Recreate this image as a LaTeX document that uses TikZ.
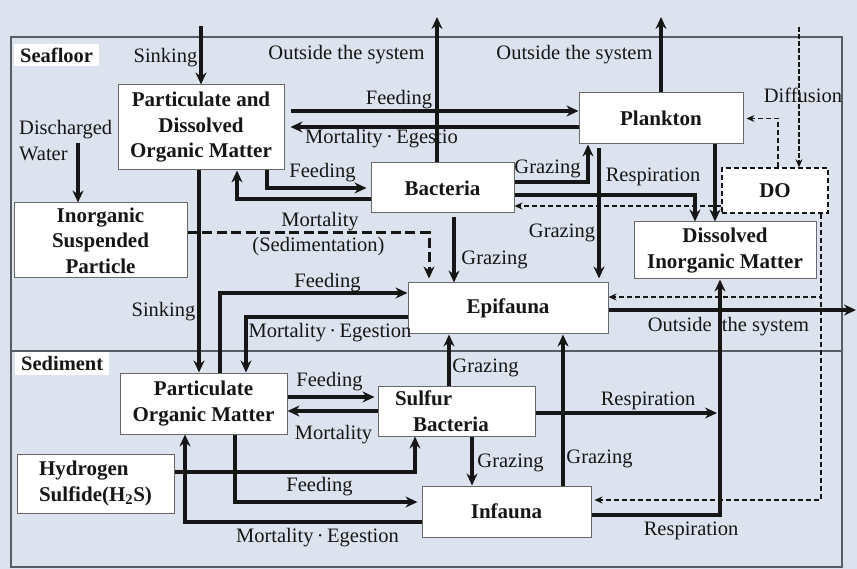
\documentclass[tikz,border=0pt]{standalone}
\usepackage{fontspec}
\setmainfont{Liberation Serif}
\usepackage{xcolor}
\usepackage{tikz}
\usetikzlibrary{arrows.meta, calc}

\definecolor{seabg}{RGB}{220,227,238}
\definecolor{frameline}{RGB}{88,92,100}
\definecolor{boxline}{RGB}{105,105,105}
\definecolor{ink}{RGB}{22,22,22}
\newcommand{\flowfont}{\fontsize{20.5}{25.5}\selectfont}
\newcommand{\boxfont}{\fontsize{21}{25.5}\selectfont\bfseries}

\begin{document}
\begin{tikzpicture}[
        x=1pt, y=-1pt,
        >={Stealth[length=12pt,width=11pt]},
        box/.style={draw=boxline, fill=white, line width=1pt, align=center,
            inner sep=0pt, text=ink, font=\boxfont},
        lbl/.style={inner sep=0pt, text=ink, font=\flowfont},
        zone/.style={fill=white, inner xsep=6pt, inner ysep=4pt, anchor=west, text=ink,
            font=\flowfont\bfseries},
        frame/.style={draw=frameline, line width=1.5pt},
        flow/.style={draw=ink, line width=3.3pt, ->},
        sedflow/.style={draw=ink, line width=3pt, dash pattern=on 10pt off 4.5pt, ->},
        dflow/.style={draw=ink, line width=1.5pt, dash pattern=on 5pt off 3pt,
            -{Stealth[length=8pt,width=7pt]}},
        diffuse/.style={draw=ink, line width=2pt, dash pattern=on 5pt off 2pt,
            -{Stealth[length=8pt,width=7pt]}}
    ]
        \useasboundingbox (0,0) rectangle (857,569);
        \fill[seabg] (0,0) rectangle (857,569);
        \draw[frame] (11,37) rectangle (842,351);
        \draw[frame] (11,351) rectangle (842,567);
        \node[zone] (seafloor) at (14,55) {Seafloor};
        \node[zone] (sediment) at (15,363.5) {Sediment};

        \node[box, minimum width=166pt, minimum height=85pt] (pdom) at (201,127.5)
            {Particulate and\\Dissolved\\Organic Matter};
        \node[box, minimum width=164pt, minimum height=51pt] (plank) at (661,118.5) {Plankton};
        \node[box, minimum width=143pt, minimum height=50pt] (bact) at (442.5,188) {Bacteria};
        \node[box, dashed, draw=ink, line width=1.5pt, dash pattern=on 5pt off 3pt,
            minimum width=106pt, minimum height=45pt] (do) at (775,190.5) {DO};
        \node[box, minimum width=182pt, minimum height=57pt] (dim) at (725,250.5)
            {Dissolved\\Inorganic Matter};
        \node[box, minimum width=173pt, minimum height=75pt] (isp) at (100.5,240.5)
            {Inorganic\\Suspended\\Particle};
        \node[box, minimum width=200pt, minimum height=51pt] (epi) at (508,308.5) {Epifauna};
        \node[box, minimum width=167pt, minimum height=61pt] (pom) at (203.5,403.5)
            {Particulate\\Organic Matter};
        \node[box, minimum height=50pt, text width=123pt, inner xsep=17pt, align=left]
            (sulf) at (456.5,411) {Sulfur\\\hspace*{18pt}Bacteria};
        \node[box, minimum width=157pt, minimum height=59pt, align=left] (hs) at (95.5,483.5)
            {Hydrogen\\Sulfide(H\textsubscript{2}S)};
        \node[box, minimum width=169pt, minimum height=51pt] (inf) at (506.5,511.5) {Infauna};

        \coordinate (sinktop) at (201,26);
        \coordinate (out1) at (437,17);
        \coordinate (out2) at (661,17);
        \coordinate (out3) at (856,310);
        \coordinate (diftop) at (799,27);
        \coordinate (dwtop) at (78,143);
        \coordinate (resp) at (717,413);

        \draw[flow] (sinktop) -- (pdom.north);
        \draw[flow] (437,0 |- bact.north) -- (out1);
        \draw[flow] (plank.north) -- (out2);
        \draw[flow, shorten <=6pt] (pdom.east |- 0,111) -- (plank.west |- 0,111);
        \draw[flow, shorten >=6pt] (plank.west |- 0,127) -- (pdom.east |- 0,127);
        \draw[flow, shorten >=4pt] (267,0 |- pdom.south) |- (bact.west);
        \draw[flow] (bact.west |- 0,199) -| (237,0 |- pdom.south);
        \draw[flow] (bact.east |- 0,182) -| (588,0 |- plank.south);
        \draw[flow, shorten <=4pt, shorten >=4pt] (599,0 |- plank.south) -- (599,0 |- epi.north);
        \draw[flow] (bact.east |- 0,195) -| (695,0 |- dim.north);
        \draw[flow] (715,0 |- plank.south) -- (715,0 |- dim.north);
        \draw[dflow] (do.west |- 0,206) -- (bact.east |- 0,206);
        \draw[dflow, shorten >=3pt] (778,0 |- do.north) |- (plank.east);
        \draw[diffuse] (diftop) -- (799,0 |- do.north);
        \draw[dflow] (821,0 |- do.south) |- (epi.east |- 0,297);
        \draw[dflow, shorten >=3pt] (821,0 |- do.south) |- (inf.east |- 0,500);
        \draw[flow] (epi.east |- 0,310) -- (out3);
        \draw[sedflow, shorten >=4pt] (isp.east |- 0,233) -| (429,0 |- epi.north);
        \draw[flow, shorten <=4pt] (454,0 |- bact.south) -- (454,0 |- epi.north);
        \draw[flow] (dwtop) -- (78,0 |- isp.north);
        \draw[flow] (199,0 |- pdom.south) -- (199,0 |- pom.north);
        \draw[flow] (220,0 |- pom.north) |- (epi.west |- 0,293);
        \draw[flow] (epi.west |- 0,317) -| (246,0 |- pom.north);
        \draw[flow, shorten >=3pt] (pom.east |- 0,397) -- (sulf.west |- 0,397);
        \draw[flow] (sulf.west |- 0,411) -- (pom.east |- 0,411);
        \draw[flow] (hs.east |- 0,472) -| (415,0 |- sulf.south);
        \draw[flow, shorten >=4pt] (235,0 |- pom.south) |- (inf.west |- 0,502);
        \draw[flow] (inf.west |- 0,522) -| (185,0 |- pom.south);
        \draw[flow] (449,0 |- sulf.north) -- (449,0 |- epi.south);
        \draw[flow] (472,0 |- sulf.south) -- (472,0 |- inf.north);
        \draw[flow] (563,0 |- inf.north) -- (563,0 |- epi.south);
        \draw[flow] (sulf.east |- 0,413) -- (resp);
        \draw[flow] (inf.east |- 0,515) -| (720,0 |- dim.south);

        \node[lbl] (lsink1) at (165.5,58) {Sinking};
        \node[lbl] (lout1) at (346.5,55) {Outside the system};
        \node[lbl] (lout2) at (574.5,55) {Outside the system};
        \node[lbl] (lfeed1) at (399,100) {Feeding};
        \node[lbl] (lmort1) at (381.5,139) {Mortality\,·\,Egestio};
        \node[lbl] (lfeed2) at (322.5,173) {Feeding};
        \node[lbl] (lgraz1) at (547.5,169) {Grazing};
        \node[lbl] (lgraz2) at (562,233) {Grazing};
        \node[lbl] (lresp1) at (653,177) {Respiration};
        \node[lbl] (ldiff) at (803,95) {Diffusion};
        \node[lbl] (lout3) at (728.5,327) {Outside\ \ the system};
        \node[lbl] (lmort2) at (320,222) {Mortality};
        \node[lbl] (lsedi) at (318.5,247) {(Sedimentation)};
        \node[lbl] (lgraz3) at (494.5,260) {Grazing};
        \node[lbl, align=left, anchor=west] (ldisch) at (19,140.5) {Discharged\\Water};
        \node[lbl] (lsink2) at (163.5,312) {Sinking};
        \node[lbl] (lfeed3) at (327.5,283) {Feeding};
        \node[lbl] (lmort3) at (330,333) {Mortality\,·\,Egestion};
        \node[lbl] (lfeed4) at (329.5,382) {Feeding};
        \node[lbl] (lmort4) at (333.5,435) {Mortality};
        \node[lbl] (lfeed5) at (319.5,487) {Feeding};
        \node[lbl] (lmort5) at (317.5,538) {Mortality\,·\,Egestion};
        \node[lbl] (lgraz4) at (485.5,368) {Grazing};
        \node[lbl] (lgraz5) at (510.5,463) {Grazing};
        \node[lbl] (lgraz6) at (599.5,459) {Grazing};
        \node[lbl] (lresp2) at (648,401) {Respiration};
        \node[lbl] (lresp3) at (691,531) {Respiration};
    \end{tikzpicture}
\end{document}
